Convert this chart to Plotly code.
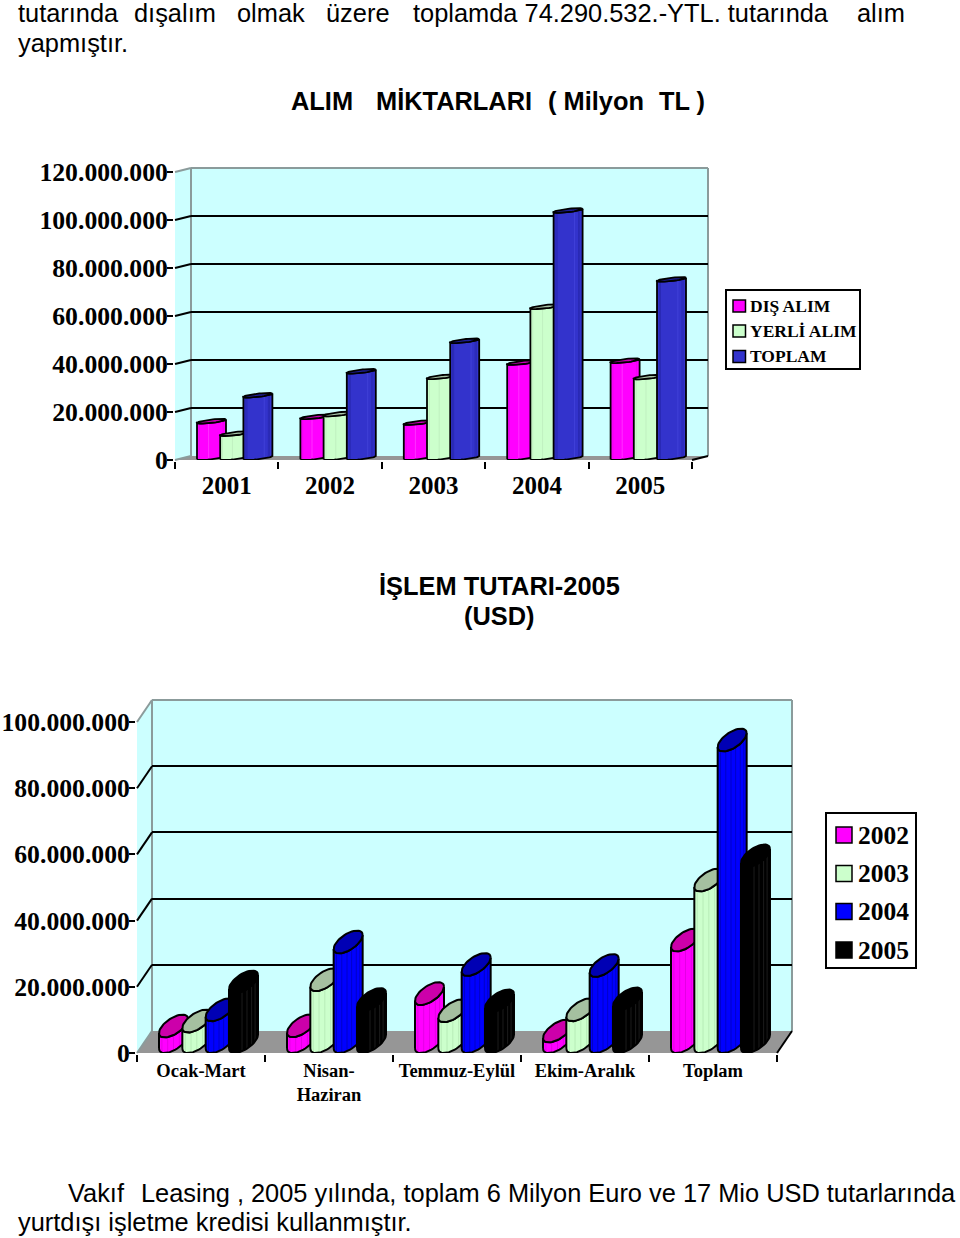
import numpy as np
import plotly.graph_objects as go

# ---------- data ----------
years = ["2001", "2002", "2003", "2004", "2005"]
dis_alim = [15.2e6, 17.0e6, 14.6e6, 39.6e6, 40.4e6]
yerli_alim = [10.0e6, 18.2e6, 33.7e6, 62.9e6, 33.6e6]
toplam = [26.0e6, 36.0e6, 48.7e6, 103.0e6, 74.29e6]
purchase_ticks = [0, 20e6, 40e6, 60e6, 80e6, 100e6, 120e6]
purchase_tick_text = ["0", "20.000.000", "40.000.000", "60.000.000", "80.000.000", "100.000.000", "120.000.000"]

periods = ["Ocak-Mart", "Nisan-<br>Haziran", "Temmuz-Eylül", "Ekim-Aralık", "Toplam"]
usd_2002 = [4.7e6, 4.8e6, 14.5e6, 3.2e6, 30.7e6]
usd_2003 = [6.2e6, 18.7e6, 9.3e6, 9.6e6, 48.8e6]
usd_2004 = [9.6e6, 30.1e6, 23.3e6, 23.0e6, 91.1e6]
usd_2005 = [18.0e6, 12.7e6, 12.3e6, 12.9e6, 56.1e6]
usd_ticks = [0, 20e6, 40e6, 60e6, 80e6, 100e6]
usd_tick_text = ["0", "20.000.000", "40.000.000", "60.000.000", "80.000.000", "100.000.000"]

W, H = 960, 1238
SERIF = "Liberation Serif"
SANS = "Liberation Sans"


def px(x):
    return x / W


def py(y):
    return 1 - y / H


fig = go.Figure()
shapes = []
annotations = []


def text(t, x, y, size, family=SANS, bold=False, anchor="left"):
    if anchor == "left":
        x -= 2  # the annotation box carries its own padding
    annotations.append(dict(text=t, x=px(x), y=py(y), xref="paper", yref="paper", xanchor=anchor,
                            yanchor="middle", showarrow=False,
                            font=dict(family=family, size=size, color="black", weight="bold" if bold else "normal")))


def poly(points, fill, line=None, lw=0):
    path = "M " + " L ".join(f"{px(a):.5f} {py(b):.5f}" for a, b in points) + " Z"
    shapes.append(dict(type="path", path=path, xref="paper", yref="paper", layer="below", fillcolor=fill,
                       line=dict(color=line or fill, width=lw)))


def seg(x0, y0, x1, y1, color="black", lw=2, layer="below"):
    shapes.append(dict(type="line", xref="paper", yref="paper", x0=px(x0), y0=py(y0), x1=px(x1), y1=py(y1),
                       layer=layer, line=dict(color=color, width=lw)))


def add_chart(wall_ax, front_ax, labels, series, ticks, tick_text, g):
    """wall_ax / front_ax: axis suffixes. g: geometry in pixels."""
    L, R, T, B, dx, dy = g["left"], g["right"], g["top"], g["bottom"], g["dx"], g["dy"]
    n = len(labels)
    step = (R - L) / n
    vmax = ticks[-1]
    scale = (B - T) / vmax
    wall = "#ccffff"
    edge = "#8b9b9b"
    # walls and floor
    poly([(L + dx, T - dy), (R + dx, T - dy), (R + dx, B - dy), (L + dx, B - dy)], wall)
    poly([(L, T), (L + dx, T - dy), (L + dx, B - dy), (L, B)], wall)
    poly([(L, B), (R, B), (R + dx, B - dy), (L + dx, B - dy)], "#969696")
    seg(L + dx, T - dy, R + dx, T - dy, edge)
    seg(R + dx, T - dy, R + dx, B - dy, edge)
    seg(L + dx, T - dy, L + dx, B - dy, edge)
    seg(L, T, L + dx, T - dy, edge)
    seg(L, B, L + dx, B - dy, edge)
    seg(R, B, R + dx, B - dy, "black")
    for tv in ticks[1:-1]:
        yy = B - tv * scale
        seg(L, yy, L + dx, yy - dy, "black")

    wa = "" if wall_ax == 1 else str(wall_ax)
    fa = str(front_ax)
    fig.update_layout({
        f"xaxis{wa}": dict(domain=[px(L + dx), px(R + dx)], range=[0, n], anchor=f"y{wa}", visible=True,
                           showgrid=False, zeroline=False, showline=False, showticklabels=False, ticks=""),
        f"yaxis{wa}": dict(domain=[py(B - dy), py(T - dy)], range=[0, vmax], anchor=f"x{wa}",
                           tickmode="array", tickvals=ticks[1:-1], showgrid=True, gridcolor="black", gridwidth=2,
                           zeroline=False, showline=False, showticklabels=False, ticks=""),
        f"xaxis{fa}": dict(domain=[px(L), px(R)], range=[0, n], anchor=f"y{fa}",
                           tickmode="array", tickvals=[i + 0.5 for i in range(n)], ticktext=labels,
                           ticks="", showgrid=False, zeroline=False, showline=True, linecolor="black", linewidth=2,
                           ticklabelstandoff=g["xstand"],
                           tickfont=dict(family=SERIF, size=g["xfont"], color="black", weight="bold"),
                           minor=dict(tickmode="array", tickvals=list(range(n + 1)), ticks="outside", ticklen=7,
                                      tickwidth=2, tickcolor="black", showgrid=False)),
        f"yaxis{fa}": dict(domain=[py(B), py(T)], range=[0, vmax], anchor=f"x{fa}",
                           tickmode="array", tickvals=ticks, ticktext=tick_text, ticks="outside", ticklen=6,
                           tickwidth=2, tickcolor="black", showgrid=False, zeroline=False,
                           showline=True, linecolor="black", linewidth=2, ticklabelstandoff=-6,
                           tickfont=dict(family=SERIF, size=g["yfont"], color="black", weight="bold")),
    })
    # invisible trace keeps the wall subplot alive
    fig.add_trace(go.Scatter(x=[0], y=[0], xaxis=f"x{wa}", yaxis=f"y{wa}", mode="markers", opacity=0,
                             hoverinfo="skip", showlegend=False))

    bw = g["w"]
    ay, bx, by = g["ay"], g["bx"], g["by"]
    ax = np.sqrt(max((bw / 2) ** 2 - bx ** 2, 1))
    lift = float(np.hypot(ay, by))
    t_r = float(np.arctan2(-bx, ax))
    t_l = t_r - np.pi
    arc_t = np.linspace(t_l, t_r, 25)
    arc_x = ax * np.cos(arc_t) - bx * np.sin(arc_t)
    arc_u = ay * np.cos(arc_t) + by * np.sin(arc_t) + lift
    ring_t = np.linspace(0, 2 * np.pi, 49)
    ring_x = ax * np.cos(ring_t) - bx * np.sin(ring_t)
    ring_u = ay * np.cos(ring_t) + by * np.sin(ring_t) + lift

    for s, sr in enumerate(series):
        z = 10 * (s + 1) * (front_ax)
        off = g["first"] + s * g["gap"]
        sil_x, sil_y, cap_x, cap_y = [], [], [], []
        stripes = [([], []) for _ in sr["stripes"]]
        bar_x, bar_y, bar_b = [], [], []
        base_px = lift + ay
        for i, v in enumerate(sr["values"]):
            c = i + 0.5 + off / step
            xs = np.concatenate([arc_x, arc_x[::-1], arc_x[:1]])
            top_u = arc_u + v * scale
            us = np.concatenate([arc_u, top_u[::-1], arc_u[:1]])
            sil_x += list(c + xs / step) + [None]
            sil_y += list(us / scale) + [None]
            cap_x += list(c + ring_x / step) + [None]
            cap_y += list(v + ring_u / scale) + [None]
            b = min(base_px / scale, v)
            bar_x.append(c)
            bar_b.append(b)
            bar_y.append(v - b)
            for (sx, sy), (col, fr) in zip(stripes, sr["stripes"]):
                for f in fr:
                    d = -bw / 2 + f * bw
                    lo = float(np.interp(d, arc_x, arc_u))
                    sx += [c + d / step, c + d / step, None]
                    sy += [lo / scale, v + lo / scale, None]
        common = dict(xaxis=f"x{fa}", yaxis=f"y{fa}", hoverinfo="skip", showlegend=False, cliponaxis=False)
        fig.add_trace(go.Scatter(x=sil_x, y=sil_y, mode="none", fill="toself", fillcolor=sr["color"], zorder=z, **common))
        fig.add_trace(go.Bar(x=bar_x, y=bar_y, base=bar_b, width=(bw - 2) / step, marker=dict(color=sr["color"], line=dict(width=0)),
                             xaxis=f"x{fa}", yaxis=f"y{fa}", name=sr["name"], showlegend=False, zorder=z + 1))
        for (sx, sy), (col, fr) in zip(stripes, sr["stripes"]):
            fig.add_trace(go.Scatter(x=sx, y=sy, mode="lines", line=dict(color=col, width=g["stripe"]), connectgaps=False, zorder=z + 2, **common))
        fig.add_trace(go.Scatter(x=sil_x, y=sil_y, mode="lines", line=dict(color="black", width=g["lw"]), zorder=z + 3, **common))
        fig.add_trace(go.Scatter(x=cap_x, y=cap_y, mode="lines", fill="toself", fillcolor=sr["cap"],
                                 line=dict(color="black", width=g["lw"]), zorder=z + 4, **common))


fig.update_layout(barmode="overlay")

chart1_series = [
    dict(name="DIŞ ALIM", values=dis_alim, color="#ff00ff", cap="#c800b4",
         stripes=[("#f000f0", [0.08, 0.9]), ("#ff30ff", [0.4])]),
    dict(name="YERLİ ALIM", values=yerli_alim, color="#ccffcc", cap="#a8c4a8",
         stripes=[("#c0f0c0", [0.08, 0.42, 0.8])]),
    dict(name="TOPLAM", values=toplam, color="#3333cc", cap="#1e1e96",
         stripes=[("#2a2ab4", [0.08, 0.12, 0.86, 0.9]), ("#4040d8", [0.72])]),
]
add_chart(1, 2, years, chart1_series, purchase_ticks, purchase_tick_text,
          dict(left=175, right=692, top=172, bottom=460, dx=16, dy=4, w=29, first=-15.2, gap=23.2,
               ay=1.7, by=1.6, bx=0.5, xfont=25, yfont=25.7, xstand=2, lw=1.8, stripe=1))

chart2_series = [
    dict(name="2002", values=usd_2002, color="#ff00ff", cap="#cc00aa",
         stripes=[("#e400e4", [0.1, 0.3, 0.5, 0.7, 0.85])]),
    dict(name="2003", values=usd_2003, color="#ccffcc", cap="#a5c0a0",
         stripes=[("#b8ecb8", [0.1, 0.3, 0.5, 0.7, 0.85])]),
    dict(name="2004", values=usd_2004, color="#0000ff", cap="#0000b4",
         stripes=[("#0000c8", [0.1, 0.28, 0.46, 0.62, 0.78, 0.9])]),
    dict(name="2005", values=usd_2005, color="#000000", cap="#000000",
         stripes=[("#1c1c1c", [0.45, 0.62, 0.78, 0.9])]),
]
add_chart(3, 4, periods, chart2_series, usd_ticks, usd_tick_text,
          dict(left=137, right=777, top=722, bottom=1053, dx=15, dy=22, w=29, first=-27.5, gap=23.33,
               ay=7, by=9, bx=0.0, xfont=18.5, yfont=25.7, xstand=0, lw=2, stripe=1))

# ---------- legends ----------
def legend(box, rows, swatch, text_x, size):
    x0, y0, x1, y1 = box
    shapes.append(dict(type="rect", xref="paper", yref="paper", x0=px(x0), y0=py(y0), x1=px(x1), y1=py(y1),
                       layer="above", fillcolor="white", line=dict(color="black", width=2)))
    for label, color, yc in rows:
        shapes.append(dict(type="rect", xref="paper", yref="paper", x0=px(swatch[0]), x1=px(swatch[1]),
                           y0=py(yc - swatch[2]), y1=py(yc + swatch[2]), layer="above",
                           fillcolor=color, line=dict(color="black", width=1.5)))
        text(label, text_x, yc, size, SERIF, True)


legend((726, 290, 860, 369),
       [(s["name"], s["color"], yy) for s, yy in zip(chart1_series, (306, 331, 356.5))],
       (733, 745.5, 6), 750, 17.5)
legend((826, 813, 916, 968),
       [(s["name"], s["color"], yy) for s, yy in zip(chart2_series, (835, 873.5, 911.5, 950))],
       (836, 852, 8), 858, 25.5)

# ---------- running text ----------
S = 25.4
for t, x in [("tutarında", 18), ("dışalım", 134), ("olmak", 237), ("üzere", 326),
             ("toplamda 74.290.532.-YTL. tutarında", 413), ("alım", 857)]:
    text(t, x, 13, S)
text("yapmıştır.", 18, 43, S)
for t, x in [("ALIM", 291), ("MİKTARLARI", 376), ("( Milyon", 548), ("TL )", 659)]:
    text(t, x, 101, S, bold=True)
text("İŞLEM TUTARI-2005", 499, 586, S, bold=True, anchor="center")
text("(USD)", 499, 616, S, bold=True, anchor="center")
for t, x in [("Vakıf", 68), ("Leasing ,", 141), ("2005 yılında, toplam 6 Milyon Euro ve 17 Mio USD tutarlarında", 251)]:
    text(t, x, 1193, S)
text("yurtdışı işletme kredisi kullanmıştır.", 18, 1222, S)

fig.update_layout(width=W, height=H, autosize=False, margin=dict(l=0, r=0, t=0, b=0, pad=0, autoexpand=False),
                  paper_bgcolor="white", plot_bgcolor="rgba(0,0,0,0)",
                  showlegend=False, shapes=shapes, annotations=annotations)

fig.write_html("out.html", config={"displayModeBar": False},
               post_script="document.body.style.margin='0';document.body.style.overflow='hidden';")
